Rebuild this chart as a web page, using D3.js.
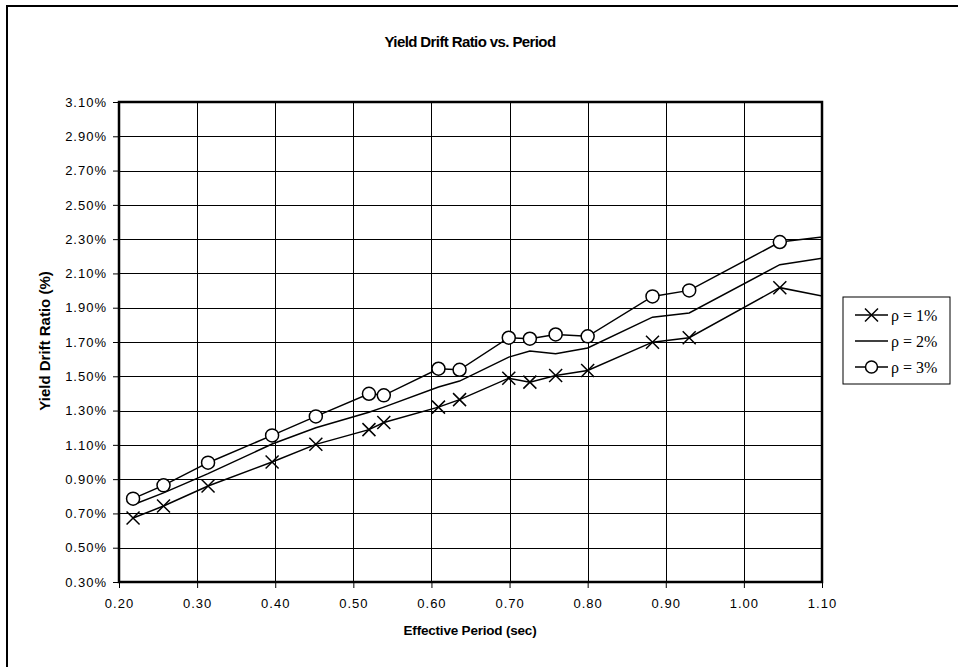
<!DOCTYPE html>
<meta charset="utf-8">
<style>
  body { margin: 0; background: #fff; }
  text { font-family: "Liberation Sans", Arial, sans-serif; }
</style>
<body>
<script src="https://d3js.org/d3.v7.min.js"></script>
<script>
    // effective periods (sec); last point lies past 1.10 and gets clipped
    var period = [0.218, 0.257, 0.314, 0.396, 0.452, 0.520, 0.539, 0.609, 0.636,
                  0.699, 0.726, 0.759, 0.800, 0.883, 0.930, 1.046, 1.160];
    var rho1 = [0.673, 0.743, 0.860, 1.000, 1.103, 1.189, 1.230, 1.320, 1.364,
                1.489, 1.466, 1.505, 1.534, 1.699, 1.725, 2.017, 1.914];
    var rho2 = [0.751, 0.820, 0.932, 1.105, 1.200, 1.290, 1.320, 1.437, 1.472,
                1.612, 1.647, 1.632, 1.665, 1.845, 1.869, 2.151, 2.231];
    var rho3 = [0.786, 0.864, 0.996, 1.155, 1.266, 1.398, 1.389, 1.544, 1.538,
                1.725, 1.719, 1.744, 1.733, 1.966, 2.001, 2.283, 2.344];
    var seriesNames = ["ρ = 1%", "ρ = 2%", "ρ = 3%"];
    var xTicks = [0.2, 0.3, 0.4, 0.5, 0.6, 0.7, 0.8, 0.9, 1.0, 1.1];
    var yTicks = d3.range(0.3, 3.1001, 0.2);

    var svg = d3.select("body").append("svg")
        .attr("width", 958)
        .attr("height", 667);

    // outer chart frame (runs off the right and bottom)
    svg.append("path")
        .attr("d", "M7,675V6H970")
        .attr("fill", "none")
        .attr("stroke", "#000")
        .attr("stroke-width", 2);

    var margin = {left: 119, top: 102, right: 822, bottom: 582};
    var x = d3.scaleLinear().domain([0.2, 1.1]).range([margin.left, margin.right]);
    var y = d3.scaleLinear().domain([0.3, 3.1]).range([margin.bottom, margin.top]);

    svg.append("defs").append("clipPath").attr("id", "plot")
        .append("rect")
        .attr("x", margin.left).attr("y", margin.top)
        .attr("width", margin.right - margin.left)
        .attr("height", margin.bottom - margin.top);

    // grid
    var grid = svg.append("g").attr("stroke", "#000").attr("stroke-width", 1);
    grid.selectAll(".gy").data(yTicks).enter().append("line")
        .attr("x1", margin.left).attr("x2", margin.right)
        .attr("y1", function(d) { return Math.round(y(d)) + 0.5; })
        .attr("y2", function(d) { return Math.round(y(d)) + 0.5; });
    grid.selectAll(".gx").data(xTicks).enter().append("line")
        .attr("y1", margin.top).attr("y2", margin.bottom)
        .attr("x1", function(d) { return Math.round(x(d)) + 0.5; })
        .attr("x2", function(d) { return Math.round(x(d)) + 0.5; });

    // axes
    var yAxis = svg.append("g")
        .attr("transform", "translate(" + margin.left + ",0)")
        .call(d3.axisLeft(y).tickValues(yTicks).tickSize(6).tickPadding(6)
            .tickFormat(function(d) { return d.toFixed(2) + "%"; }));
    var xAxis = svg.append("g")
        .attr("transform", "translate(0," + margin.bottom + ")")
        .call(d3.axisBottom(x).tickValues(xTicks).tickSize(6).tickPadding(11)
            .tickFormat(d3.format(".2f")));
    [xAxis, yAxis].forEach(function(a) {
        a.select(".domain").remove();
        a.selectAll("line").attr("stroke", "#000");
        a.selectAll("text").attr("font-size", 13).attr("fill", "#000")
            .attr("letter-spacing", 1)
            .attr("font-family", "Liberation Sans, Arial, sans-serif");
    });

    // plot-area border
    svg.append("rect")
        .attr("x", margin.left).attr("y", margin.top)
        .attr("width", margin.right - margin.left)
        .attr("height", margin.bottom - margin.top)
        .attr("fill", "none").attr("stroke", "#000").attr("stroke-width", 2.5);

    var data = [rho1, rho2, rho3].map(function(vals) {
        return vals.map(function(v, i) { return {x: period[i], y: v}; });
    });

    var line = d3.line()
        .x(function(d) { return x(d.x); })
        .y(function(d) { return y(d.y); });

    var plot = svg.append("g").attr("clip-path", "url(#plot)");
    data.forEach(function(s) {
        plot.append("path").datum(s)
            .attr("fill", "none").attr("stroke", "#000").attr("stroke-width", 1.5)
            .attr("d", line);
    });

    var xPath = "M-6.5,-6.5L6.5,6.5M-6.5,6.5L6.5,-6.5";
    plot.selectAll(".mx").data(data[0]).enter().append("path")
        .attr("transform", function(d) { return "translate(" + x(d.x) + "," + y(d.y) + ")"; })
        .attr("d", xPath).attr("stroke", "#000").attr("stroke-width", 1.5).attr("fill", "none");
    plot.selectAll(".mo").data(data[2]).enter().append("circle")
        .attr("cx", function(d) { return x(d.x); })
        .attr("cy", function(d) { return y(d.y); })
        .attr("r", 6.5)
        .attr("fill", "#fff").attr("stroke", "#000").attr("stroke-width", 1.5);

    // title and axis labels
    svg.append("text").attr("x", 470).attr("y", 47).attr("text-anchor", "middle")
        .attr("font-size", 15).attr("letter-spacing", -0.6)
        .attr("font-weight", "bold").text("Yield Drift Ratio vs. Period");
    svg.append("text").attr("x", 470).attr("y", 635).attr("text-anchor", "middle")
        .attr("font-size", 13.5).attr("letter-spacing", -0.2)
        .attr("font-weight", "bold").text("Effective Period (sec)");
    svg.append("text").attr("transform", "translate(50,341) rotate(-90)")
        .attr("text-anchor", "middle")
        .attr("font-size", 15).attr("font-weight", "bold").text("Yield Drift Ratio (%)");

    // legend
    var lg = svg.append("g").attr("transform", "translate(843,297)");
    lg.append("rect").attr("width", 107).attr("height", 87)
        .attr("fill", "#fff").attr("stroke", "#000").attr("stroke-width", 1);
    seriesNames.forEach(function(name, i) {
        var cy = 18 + i * 26;
        lg.append("line").attr("x1", 12).attr("x2", 45).attr("y1", cy).attr("y2", cy)
            .attr("stroke", "#000").attr("stroke-width", 1.5);
        if (i === 0) {
            lg.append("path").attr("transform", "translate(28.5," + cy + ")")
                .attr("d", xPath).attr("stroke", "#000").attr("stroke-width", 1.5);
        }
        if (i === 2) {
            lg.append("circle").attr("cx", 28.5).attr("cy", cy).attr("r", 6)
                .attr("fill", "#fff").attr("stroke", "#000").attr("stroke-width", 1.5);
        }
        lg.append("text").attr("x", 48).attr("y", cy + 5.5)
            .style("font-family", "Liberation Serif, serif")
            .attr("font-size", 16).text(name);
    });
</script>
</body>
